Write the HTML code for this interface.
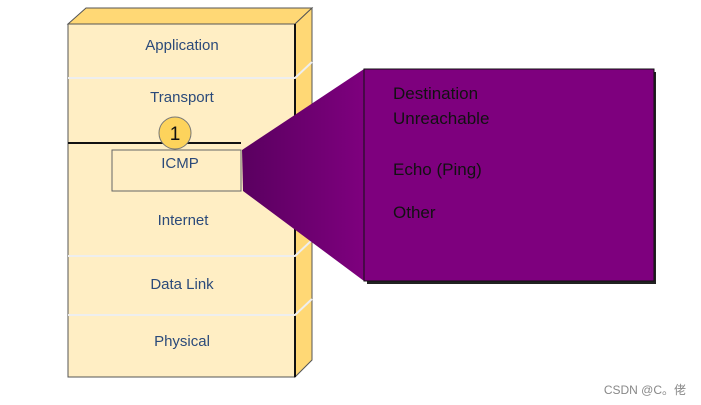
<!DOCTYPE html>
<html><head><style>body{margin:0;background:#fff;}</style></head><body>
<svg width="701" height="405" xmlns="http://www.w3.org/2000/svg" style="display:block;font-family:'Liberation Sans',Arial,sans-serif">
<defs><linearGradient id="g" x1="0" x2="1" y1="0" y2="0"><stop offset="0" stop-color="#5a0060"/><stop offset="1" stop-color="#7e007e"/></linearGradient></defs>
<polygon points="68,24 86,8 312,8 295,24" fill="#ffd875" stroke="#555" stroke-width="1"/>
<polygon points="295,24 312,8 312,360 295,377" fill="#ffd875" stroke="#555" stroke-width="1"/>
<rect x="68" y="24" width="227" height="353" fill="#ffeec4" stroke="#555" stroke-width="1"/>
<line x1="295" y1="24" x2="295" y2="377" stroke="#111" stroke-width="2"/>
<g stroke="#eee" stroke-width="2" fill="none">
<polyline points="68,78 295,78 312,62"/>
<polyline points="68,256 295,256 312,240"/>
<polyline points="68,315 295,315 312,299"/>
</g>
<line x1="68" y1="143" x2="241" y2="143" stroke="#111" stroke-width="2"/>
<circle cx="175" cy="133" r="16" fill="#fdd35c" stroke="#777" stroke-width="1"/>
<text x="175" y="140" font-size="19" text-anchor="middle" fill="#111">1</text>
<rect x="112" y="150" width="129" height="41" fill="#ffeec4" stroke="#666" stroke-width="1"/>
<polygon points="242,150 364,69 364,281 243,191" fill="url(#g)"/>
<rect x="367" y="72" width="289" height="212" fill="#222"/>
<rect x="364" y="69" width="290" height="212" fill="#7e007e" stroke="#111" stroke-width="1"/>
<g fill="#2b4a7a" font-size="15" text-anchor="middle">
<text x="182" y="50">Application</text>
<text x="182" y="102">Transport</text>
<text x="180" y="168">ICMP</text>
<text x="183" y="225">Internet</text>
<text x="182" y="289">Data Link</text>
<text x="182" y="346">Physical</text>
</g>
<g fill="#111" font-size="17">
<text x="393" y="99">Destination</text>
<text x="393" y="124">Unreachable</text>
<text x="393" y="175">Echo (Ping)</text>
<text x="393" y="218">Other</text>
</g>
<text x="686" y="394" font-size="12" fill="#888" text-anchor="end" font-family="'Liberation Sans','Noto Sans CJK SC',sans-serif">CSDN @C。佬</text>
</svg>
</body></html>
